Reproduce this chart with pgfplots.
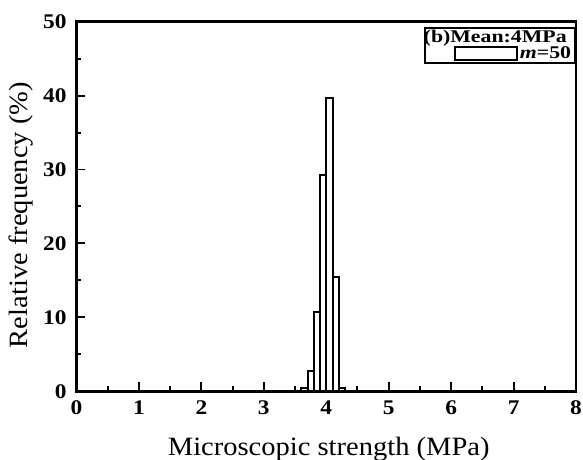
\documentclass[border=0pt]{standalone}
\usepackage{fontspec}
\setmainfont{Liberation Serif}
\newfontfamily\labfont{Liberation Serif}[FakeStretch=1.08]
\newfontfamily\tickfont{Liberation Serif}[FakeStretch=1.12]
\newfontfamily\legfont{Liberation Serif}[FakeStretch=1.22]
\usepackage{pgfplots}
\pgfplotsset{compat=1.18}

\begin{document}
\begin{tikzpicture}
\begin{axis}[
    scale only axis, width=251.5pt, height=186.2pt,
    xmin=0, xmax=8, ymin=0, ymax=50,
    xtick={0,...,8}, ytick={0,10,...,50},
    minor x tick num=1, minor y tick num=1,
    xtick pos=left, ytick pos=left, tick align=inside,
    major tick length=4.5pt, minor tick length=2.5pt,
    axis line style={line width=1.2pt},
    every tick/.style={black, line width=1pt},
    /pgf/number format/assume math mode=true,
    ticklabel style={font=\tickfont\bfseries\fontsize{10.5}{12}\selectfont},
    yticklabel style={xshift=-1.5pt},
    xticklabel style={yshift=-1pt},
    xlabel={Microscopic strength (MPa)},
    ylabel={Relative frequency (\%)},
    label style={font=\labfont\fontsize{13.3}{15}\selectfont},
    xlabel style={at={(axis description cs:0.505,-0.157)}, anchor=center},
    ylabel style={at={(axis description cs:-0.11,0.477)}, anchor=center},
    legend style={at={(1,1)}, anchor=north east, yshift=-2.5pt, draw=black, line width=1pt,
      font=\legfont\bfseries\fontsize{9}{9}\selectfont, inner sep=1pt, row sep=0pt,
      nodes={inner xsep=1pt, inner ysep=0pt, text height=6.5pt, text depth=1.5pt}},
    legend cell align=left,
  ]
  \addlegendimage{empty legend}
  \addlegendentry{\hspace*{-48.4pt}(b)Mean:4MPa}
  \addplot[ybar interval, fill=white, draw=black, line width=1pt,
    legend image code/.code={
      \path[draw=none, fill=none] (0pt,0pt) -- (14pt,0pt);
      \draw[line width=1pt, fill=white] (14pt,-3.3pt) rectangle (45.4pt,3.3pt);}]
    coordinates {(3.6,0.45) (3.7,2.8) (3.8,10.8) (3.9,29.2) (4.0,39.6) (4.1,15.5) (4.2,0.5) (4.3,0)};
  \addlegendentry{{\itshape m}=50}
  \coordinate (sw) at (rel axis cs:0,0);
  \coordinate (ne) at (rel axis cs:1,1);
\end{axis}
\pgfresetboundingbox
\path ([shift={(-38.5pt,-34.5pt)}]sw) rectangle ([shift={(3.5pt,10.85pt)}]ne);
\end{tikzpicture}
\end{document}
